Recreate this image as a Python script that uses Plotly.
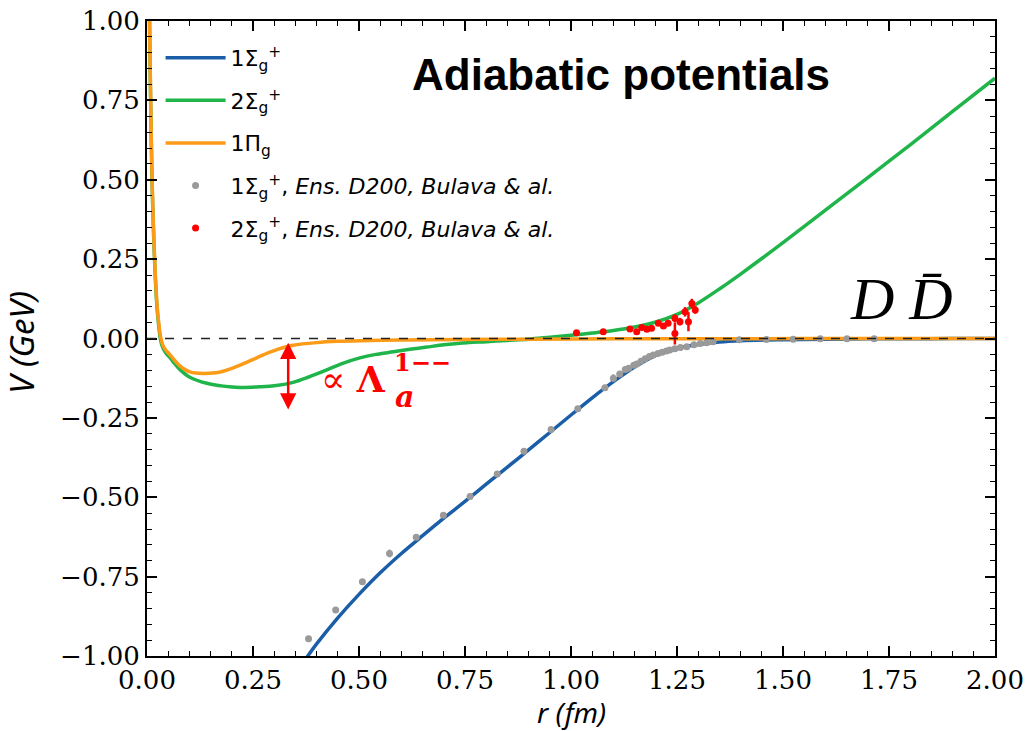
import plotly.graph_objects as go

# ---------------- data ----------------
blue_r = [0.375, 0.40, 0.45, 0.50, 0.55, 0.60, 0.65, 0.70, 0.75, 0.80, 0.85, 0.90, 0.95,
          1.00, 1.05, 1.10, 1.15, 1.20, 1.25, 1.30, 1.35, 1.40, 1.50, 1.60, 1.70, 1.80, 1.90, 2.00]
blue_V = [-1.008, -0.962, -0.880, -0.806, -0.738, -0.677, -0.621, -0.566, -0.513, -0.459, -0.405,
          -0.351, -0.296, -0.241, -0.187, -0.136, -0.090, -0.053, -0.031, -0.019, -0.011, -0.007,
          -0.004, -0.002, -0.001, -0.0006, -0.0003, -0.0002]

green_r = [0.004, 0.006, 0.009, 0.012, 0.016, 0.020, 0.024, 0.028, 0.032, 0.037, 0.044, 0.054,
           0.066, 0.078, 0.101, 0.141, 0.18, 0.219, 0.267, 0.30, 0.345, 0.38, 0.424, 0.46, 0.502,
           0.54, 0.581, 0.62, 0.66, 0.70, 0.738, 0.80, 0.85, 0.90, 0.95, 1.00, 1.05, 1.10, 1.15,
           1.20, 1.25, 1.30, 1.35, 1.40, 1.45, 1.50, 1.60, 1.70, 1.80, 1.90, 2.00]
green_V = [1.30, 1.00, 0.71, 0.49, 0.31, 0.18, 0.09, 0.035, -0.005, -0.028, -0.045, -0.060,
           -0.080, -0.098, -0.122, -0.141, -0.150, -0.154, -0.152, -0.149, -0.138, -0.122, -0.099,
           -0.079, -0.061, -0.050, -0.042, -0.034, -0.027, -0.020, -0.015, -0.010, -0.006, -0.002,
           0.004, 0.010, 0.017, 0.025, 0.036, 0.052, 0.076, 0.112, 0.156, 0.203, 0.252, 0.302,
           0.404, 0.507, 0.610, 0.715, 0.820]

orange_r = [0.004, 0.006, 0.009, 0.012, 0.016, 0.020, 0.024, 0.028, 0.032, 0.037, 0.044, 0.054,
            0.066, 0.078, 0.090, 0.101, 0.115, 0.133, 0.155, 0.18, 0.205, 0.235, 0.26, 0.29, 0.32,
            0.345, 0.40, 0.45, 0.50, 0.60, 0.74, 0.90, 1.10, 1.40, 1.70, 2.00]
orange_V = [1.30, 1.00, 0.72, 0.50, 0.32, 0.19, 0.10, 0.045, 0.005, -0.020, -0.036, -0.051,
            -0.070, -0.087, -0.098, -0.105, -0.109, -0.110, -0.109, -0.103, -0.092, -0.075, -0.060,
            -0.043, -0.029, -0.021, -0.013, -0.009, -0.007, -0.005, -0.003, -0.002, -0.001,
            -0.0005, -0.0002, 0.0]

grey_r = [0.381, 0.445, 0.508, 0.572, 0.635, 0.699, 0.762, 0.826, 0.889, 0.953, 1.016, 1.080,
          1.100, 1.115, 1.128, 1.136, 1.148, 1.155, 1.165, 1.175, 1.185, 1.194, 1.205, 1.215,
          1.225, 1.233, 1.245, 1.258, 1.273, 1.290, 1.305, 1.320, 1.335, 1.397, 1.461, 1.524,
          1.588, 1.651, 1.715]
grey_V = [-0.946, -0.855, -0.766, -0.677, -0.626, -0.557, -0.498, -0.427, -0.355, -0.287, -0.221,
          -0.155, -0.125, -0.112, -0.098, -0.094, -0.084, -0.080, -0.072, -0.064, -0.057, -0.052,
          -0.047, -0.043, -0.039, -0.036, -0.032, -0.028, -0.026, -0.020, -0.016, -0.013, -0.010,
          -0.004, -0.003, -0.002, -0.001, -0.001, -0.001]
grey_err = [0.004, 0.008, 0.004, 0.012, 0.004, 0.004, 0.003, 0.003, 0.003, 0.003, 0.003, 0.003,
            0.012, 0.010, 0.010, 0.008, 0.008, 0.008, 0.006, 0.006, 0.006, 0.005, 0.005, 0.005,
            0.005, 0.004, 0.004, 0.004, 0.004, 0.003, 0.003, 0.003, 0.003, 0.002, 0.002, 0.002,
            0.002, 0.002, 0.002]

red_r = [1.013, 1.076, 1.139, 1.155, 1.167, 1.179, 1.190, 1.206, 1.218, 1.229, 1.245, 1.245,
         1.257, 1.269, 1.277, 1.285, 1.293]
red_V = [0.018, 0.021, 0.030, 0.021, 0.035, 0.029, 0.032, 0.048, 0.039, 0.048, 0.064, 0.016,
         0.053, 0.084, 0.053, 0.110, 0.090]
red_err = [0.004, 0.004, 0.005, 0.005, 0.006, 0.006, 0.006, 0.008, 0.008, 0.008, 0.012, 0.035,
           0.012, 0.015, 0.030, 0.015, 0.012]

x_ticks = [0.0, 0.25, 0.5, 0.75, 1.0, 1.25, 1.5, 1.75, 2.0]
y_ticks = [-1.0, -0.75, -0.5, -0.25, 0.0, 0.25, 0.5, 0.75, 1.0]

BLUE = "#1b5ea8"
GREEN = "#1fb54a"
ORANGE = "#fb9b17"
GREY = "#9a9a9a"
RED = "#ff0000"

fig = go.Figure()
fig.add_trace(go.Scatter(x=blue_r, y=blue_V, mode="lines", line=dict(color=BLUE, width=3.5, shape="spline", smoothing=0.8),
                         name="1Σ<sub>g</sub><sup>+</sup>", legendgroup="a"))
fig.add_trace(go.Scatter(x=green_r, y=green_V, mode="lines", line=dict(color=GREEN, width=3.5, shape="spline", smoothing=0.8),
                         name="2Σ<sub>g</sub><sup>+</sup>", legendgroup="b"))
fig.add_trace(go.Scatter(x=orange_r, y=orange_V, mode="lines", line=dict(color=ORANGE, width=3.5, shape="spline", smoothing=0.8),
                         name="1Π<sub>g</sub>", legendgroup="c"))
fig.add_trace(go.Scatter(x=grey_r, y=grey_V, mode="markers", marker=dict(color=GREY, size=7),
                         error_y=dict(type="data", array=grey_err, color=GREY, thickness=2.5, width=0),
                         name="1Σ<sub>g</sub><sup>+</sup>, <i>Ens. D200, Bulava & al.</i>", legendgroup="d"))
fig.add_trace(go.Scatter(x=red_r, y=red_V, mode="markers", marker=dict(color=RED, size=7),
                         error_y=dict(type="data", array=red_err, color=RED, thickness=2.5, width=0),
                         name="2Σ<sub>g</sub><sup>+</sup>, <i>Ens. D200, Bulava & al.</i>", legendgroup="e"))

fig.add_hline(y=0, line=dict(color="#222222", width=1.5, dash="dash"))

# double arrow
fig.add_annotation(x=0.333, y=-0.013, ax=0.333, ay=-0.228, xref="x", yref="y", axref="x", ayref="y",
                   text="", showarrow=True, arrowhead=2, arrowside="end+start", arrowsize=1.3,
                   arrowwidth=2.5, arrowcolor=RED)
fig.add_annotation(x=0.568, y=-0.128, xref="x", yref="y", xanchor="right", yanchor="middle",
                   text="∝ <b>Λ</b>", showarrow=False,
                   font=dict(family="DejaVu Serif", size=36, color=RED))
fig.add_annotation(x=0.580, y=-0.183, xref="x", yref="y", xanchor="left", yanchor="middle",
                   text="<b><i>a</i></b>", showarrow=False,
                   font=dict(family="DejaVu Serif", size=30, color=RED))
fig.add_annotation(x=0.578, y=-0.074, xref="x", yref="y", xanchor="left", yanchor="middle",
                   text="<b>1−−</b>", showarrow=False,
                   font=dict(family="DejaVu Serif", size=24, color=RED))

fig.add_annotation(x=1.779, y=0.124, xref="x", yref="y", xanchor="center", yanchor="middle",
                   text="<i>D D\u0304</i>", showarrow=False,
                   font=dict(family="Liberation Serif", size=60, color="black"))

fig.add_annotation(x=0.559, y=0.915, xref="paper", yref="paper", xanchor="center", yanchor="middle",
                   text="<b>Adiabatic potentials</b>", showarrow=False,
                   font=dict(family="Liberation Sans", size=44, color="black"))

# axis titles as annotations for exact placement
fig.add_annotation(x=0.5, y=-0.0885, xref="paper", yref="paper", xanchor="center", yanchor="middle",
                   text="<i>r (fm)</i>", showarrow=False, borderpad=0,
                   font=dict(family="Noto Sans", size=28, color="black"))
fig.add_annotation(x=-0.148, y=0.494, xref="paper", yref="paper", xanchor="center", yanchor="middle",
                   text="<i>V (GeV)</i>", showarrow=False, textangle=-90,
                   font=dict(family="Noto Sans", size=33, color="black"))

axis_common = dict(ticks="inside", ticklen=10, tickwidth=1.5, tickcolor="black",
                   showline=True, linecolor="black", linewidth=2, mirror="allticks",
                   showgrid=False, zeroline=False, automargin=False, ticklabeloverflow="allow",
                   tickfont=dict(family="DejaVu Serif", size=26, color="black"),
                   minor=dict(ticks="inside", ticklen=5, tickwidth=1.2, tickcolor="black", dtick=0.05, showgrid=False))

fig.update_xaxes(range=[0, 2], tickvals=x_ticks, tickformat=".2f", **axis_common)
fig.update_yaxes(range=[-1, 1], tickvals=y_ticks, tickformat=".2f", **axis_common)

fig.update_layout(width=1034, height=731, margin=dict(l=147, r=39, t=21, b=75),
                  paper_bgcolor="white", plot_bgcolor="white",
                  legend=dict(x=0.016, y=0.975, xanchor="left", yanchor="top", bgcolor="rgba(0,0,0,0)",
                              font=dict(family="DejaVu Sans", size=22, color="black"),
                              traceorder="grouped", tracegroupgap=11, itemwidth=60))

fig.write_html("out.html", config={"displayModeBar": False},
               post_script="document.body.style.margin='0px';")
